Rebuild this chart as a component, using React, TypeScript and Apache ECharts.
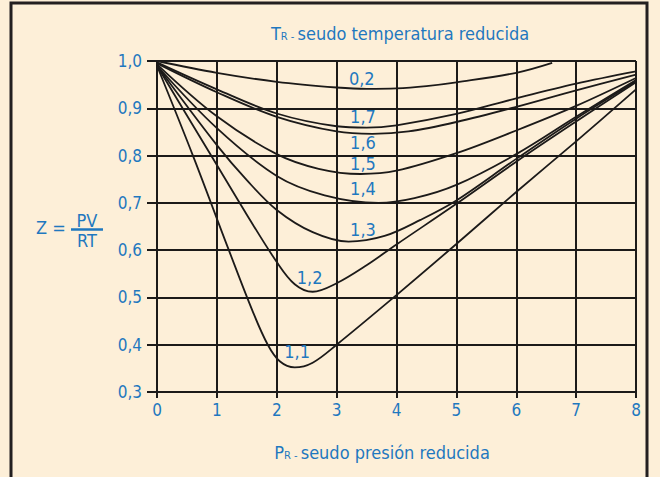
import React, { useEffect, useRef } from "react";
import * as echarts from "echarts";

// Reduced pressure ticks and Z ticks
const prTicks = [0, 1, 2, 3, 4, 5, 6, 7, 8];
const zTicks = [0.3, 0.4, 0.5, 0.6, 0.7, 0.8, 0.9, 1.0];

// Curves: [Pr, Z]
const curve02 = [[0, 1.0], [1, 0.975], [2, 0.956], [3, 0.944], [3.5, 0.941], [4, 0.942], [4.5, 0.947], [5, 0.955], [6, 0.975], [6.6, 0.996]];
const curve17 = [[0, 0.997], [1, 0.94], [2, 0.889], [3, 0.862], [3.5, 0.859], [4, 0.864], [5, 0.888], [6, 0.921], [7, 0.952], [8, 0.978]];
const curve16 = [[0, 0.995], [1, 0.934], [2, 0.882], [3, 0.851], [3.6, 0.846], [4.2, 0.851], [5, 0.871], [6, 0.903], [7, 0.938], [8, 0.971]];
const curve15 = [[0, 0.993], [1, 0.883], [2, 0.803], [2.7, 0.772], [3.4, 0.761], [4, 0.768], [5, 0.805], [6, 0.853], [7, 0.905], [8, 0.964]];
const curve14 = [[0, 0.99], [1, 0.858], [2, 0.757], [2.8, 0.716], [3.7, 0.7], [4.3, 0.71], [5, 0.738], [6, 0.803], [7, 0.882], [8, 0.96]];
const curve13 = [[0, 0.99], [1, 0.822], [1.5, 0.748], [2, 0.685], [2.6, 0.638], [3.2, 0.618], [3.8, 0.63], [4.4, 0.664], [5, 0.705], [6, 0.793], [7, 0.878], [8, 0.957]];
const curve12 = [[0, 0.99], [1, 0.78], [1.5, 0.675], [2, 0.575], [2.3, 0.528], [2.6, 0.512], [3, 0.53], [3.5, 0.568], [4, 0.612], [5, 0.698], [6, 0.787], [7, 0.872], [8, 0.955]];
const curve11 = [[0, 0.99], [0.6, 0.8], [1.2, 0.6], [1.6, 0.47], [1.85, 0.4], [2.05, 0.365], [2.3, 0.352], [2.6, 0.362], [3, 0.4], [4, 0.505], [5, 0.613], [6, 0.723], [7, 0.83], [8, 0.94]];

const curveNames = ["0,2", "1,7", "1,6", "1,5", "1,4", "1,3", "1,2", "1,1"];
const curves = [curve02, curve17, curve16, curve15, curve14, curve13, curve12, curve11];
// label anchors [Pr, Z]
const labelAnchors = [[3.42, 0.964], [3.44, 0.882], [3.44, 0.827], [3.44, 0.784], [3.44, 0.731], [3.44, 0.643], [2.55, 0.543], [2.34, 0.385]];

const BLUE = "#1f78bf";
const INK = "#1c1a19";
const FONT = "'Liberation Sans Narrow', 'DejaVu Sans Condensed', 'Roboto', sans-serif";

export default function App() {
  const ref = useRef<HTMLDivElement>(null);
  useEffect(() => {
    const chart = echarts.init(ref.current!, null, { renderer: "svg" });
    const lineSeries = curves.map((c, i) => ({
      type: "line",
      name: curveNames[i],
      data: c,
      smooth: 0.35,
      showSymbol: false,
      symbol: "none",
      lineStyle: { color: INK, width: 1.8 },
      z: 5,
    }));
    const labelSeries = {
      type: "scatter",
      symbolSize: 0,
      itemStyle: { opacity: 1 },
      data: labelAnchors.map((a, i) => ({ value: a, name: curveNames[i] })),
      label: {
        show: true,
        position: "inside",
        formatter: "{b}",
        color: BLUE,
        opacity: 1,
        fontSize: 18,
        fontFamily: FONT,
      },
      z: 6,
    };
    chart.setOption({
      animation: false,
      backgroundColor: "#fdefd8",
      grid: { left: 157, right: 24, top: 61, bottom: 85 },
      xAxis: {
        type: "value",
        min: prTicks[0],
        max: prTicks[prTicks.length - 1],
        interval: 1,
        axisLine: { show: true, lineStyle: { color: INK, width: 2 } },
        axisTick: { show: true, length: 6, lineStyle: { color: INK, width: 2 } },
        axisLabel: { color: BLUE, fontSize: 17, fontFamily: FONT, margin: 9 },
        splitLine: { show: true, lineStyle: { color: INK, width: 2 } },
      },
      yAxis: {
        type: "value",
        min: zTicks[0],
        max: zTicks[zTicks.length - 1],
        interval: 0.1,
        axisLine: { show: true, lineStyle: { color: INK, width: 2 } },
        axisTick: { show: true, length: 10, lineStyle: { color: INK, width: 2 } },
        axisLabel: {
          color: BLUE,
          fontSize: 17,
          fontFamily: FONT,
          margin: 15,
          formatter: (v: number) => v.toFixed(1).replace(".", ","),
        },
        splitLine: { show: true, lineStyle: { color: INK, width: 2 } },
      },
      graphic: [
        {
          type: "rect",
          shape: { x: 11, y: 3, width: 636, height: 520 },
          style: { fill: "none", stroke: "#231f20", lineWidth: 3 },
          silent: true,
        },
        {
          type: "text",
          x: 400,
          y: 31,
          style: {
            text: "{a|T}{s|R - }{a|seudo temperatura reducida}",
            align: "center",
            verticalAlign: "middle",
            fill: BLUE,
            rich: {
              a: { fontSize: 18, fontFamily: FONT, color: BLUE, lineHeight: 22, verticalAlign: "bottom" },
              s: { fontSize: 11, fontFamily: FONT, color: BLUE, lineHeight: 22, verticalAlign: "bottom" },
            },
          },
        },
        {
          type: "text",
          x: 382,
          y: 450,
          style: {
            text: "{a|P}{s|R - }{a|seudo presión reducida}",
            align: "center",
            verticalAlign: "middle",
            fill: BLUE,
            rich: {
              a: { fontSize: 18, fontFamily: FONT, color: BLUE, lineHeight: 22, verticalAlign: "bottom" },
              s: { fontSize: 11, fontFamily: FONT, color: BLUE, lineHeight: 22, verticalAlign: "bottom" },
            },
          },
        },
        {
          type: "text",
          x: 36,
          y: 227,
          style: { text: "Z =", fill: BLUE, fontSize: 18, fontFamily: FONT, align: "left", verticalAlign: "middle" },
        },
        {
          type: "text",
          x: 87,
          y: 220,
          style: { text: "PV", fill: BLUE, fontSize: 18, fontFamily: FONT, align: "center", verticalAlign: "middle" },
        },
        {
          type: "line",
          shape: { x1: 71, y1: 229.5, x2: 103, y2: 229.5 },
          style: { stroke: BLUE, lineWidth: 2.5 },
        },
        {
          type: "text",
          x: 87,
          y: 240,
          style: { text: "RT", fill: BLUE, fontSize: 18, fontFamily: FONT, align: "center", verticalAlign: "middle" },
        },
      ],
      series: [...lineSeries, labelSeries],
    });
    return () => chart.dispose();
  }, []);
  return (
    <div
      ref={ref}
      style={{ position: "fixed", left: 0, top: 0, width: 660, height: 477, background: "#fdefd8" }}
    />
  );
}
